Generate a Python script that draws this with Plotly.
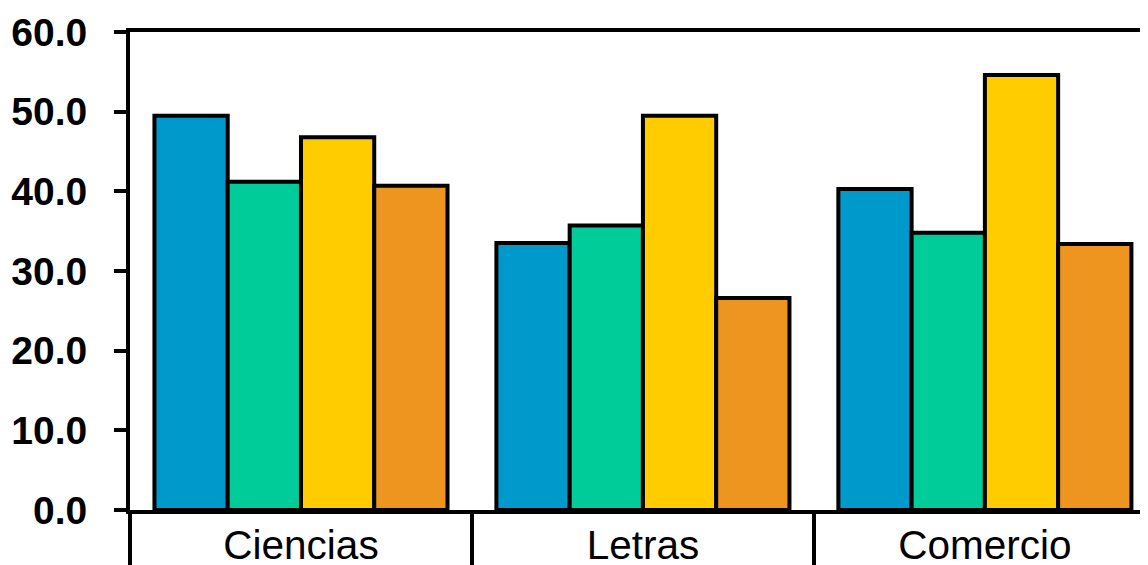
import plotly.graph_objects as go

categories = ["Ciencias", "Letras", "Comercio"]
serie_1 = [49.5, 33.5, 40.3]
serie_2 = [41.2, 35.7, 34.8]
serie_3 = [46.8, 49.5, 54.6]
serie_4 = [40.7, 26.6, 33.4]
series = [serie_1, serie_2, serie_3, serie_4]
colors = ["#0099CC", "#00CC99", "#FFCC00", "#EE9520"]
y_ticks = [0, 10, 20, 30, 40, 50, 60]

fig = go.Figure()
for vals, col in zip(series, colors):
    fig.add_trace(go.Bar(
        x=categories, y=vals,
        marker=dict(color=col, line=dict(color="black", width=4)),
        showlegend=False,
    ))

fig.update_layout(
    width=1148, height=565,
    margin=dict(l=122, r=8, t=24, b=63, autoexpand=False),
    barmode="group", bargap=0.143, bargroupgap=0,
    plot_bgcolor="white", paper_bgcolor="white",
    font=dict(family="Liberation Sans, Arial, sans-serif", color="black"),
)
fig.update_xaxes(
    range=[-0.5, 2.477], automargin=False,
    showline=True, linecolor="black", linewidth=4, mirror=True,
    ticks="outside", tickson="boundaries", ticklen=60, tickwidth=3.5, tickcolor="black",
    tickfont=dict(size=40.5, color="black"),
    ticklabelstandoff=-4,
    showgrid=False, zeroline=False,
)
fig.update_yaxes(
    range=[0, 60], tickvals=y_ticks, tickformat=".1f", automargin=False,
    showline=True, linecolor="black", linewidth=4,
    ticks="outside", ticklen=12, tickwidth=4, tickcolor="black",
    tickfont=dict(size=39, color="black", weight="bold"),
    ticklabelstandoff=19,
    showgrid=False, zeroline=False,
)
fig.write_html("out.html")
